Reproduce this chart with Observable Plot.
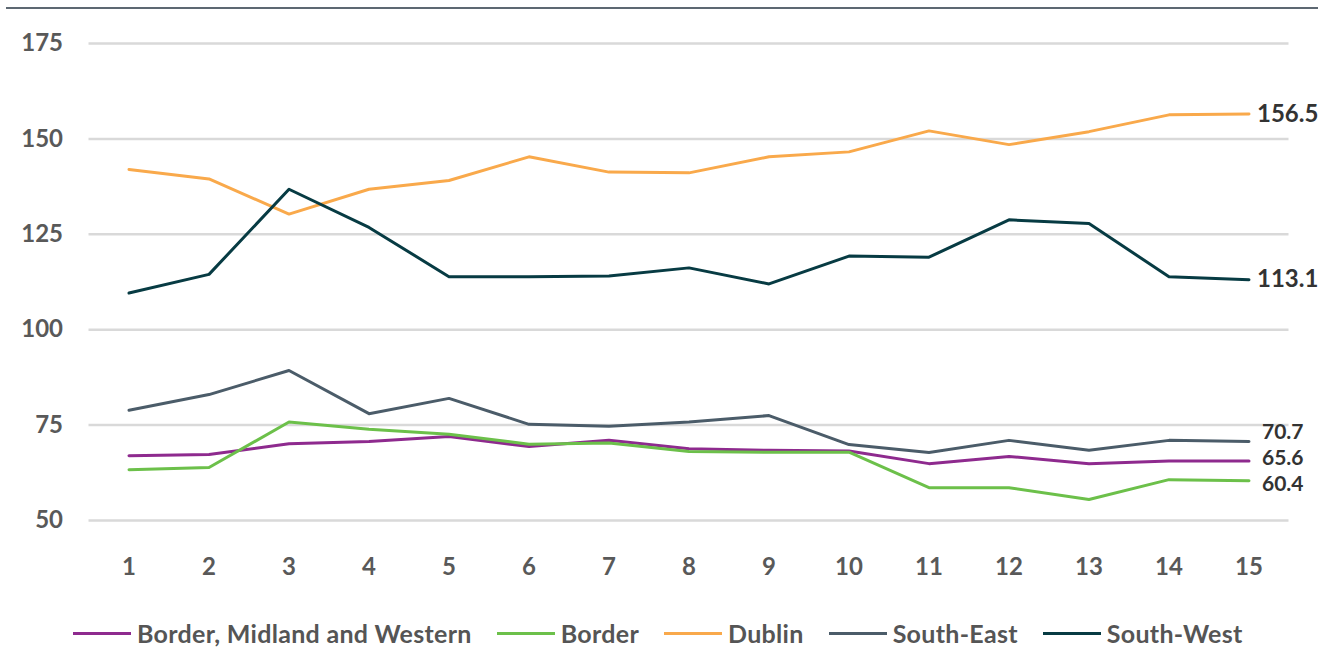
<!DOCTYPE html>
<html>
<head>
<meta charset="utf-8">
<script src="https://cdn.jsdelivr.net/npm/d3@7"></script>
<script src="https://cdn.jsdelivr.net/npm/@observablehq/plot@0.6"></script>
<style>
  html, body { margin: 0; padding: 0; background: #fff; }
  #wrap { position: relative; width: 1338px; height: 659px; overflow: hidden; }
  #topline { position: absolute; top: 7px; left: 6px; width: 1312px; border-top: 2.5px solid #5d6872; }
  #legend { position: absolute; top: 618px; left: 73px; display: flex; align-items: center;
            font-family: Lato, sans-serif; font-weight: 700; font-size: 25px; letter-spacing: 0.3px; color: #555; }
  .item { display: flex; align-items: center; margin-right: 25px; }
  .sw { width: 58px; height: 3px; margin-right: 6px; }
</style>
</head>
<body>
<div id="wrap">
  <div id="topline"></div>
  <div id="chart"></div>
  <div id="legend"></div>
</div>
<script>
const periods = [1, 2, 3, 4, 5, 6, 7, 8, 9, 10, 11, 12, 13, 14, 15];
const yTicks = [50, 75, 100, 125, 150, 175];
const seriesNames = ["Border, Midland and Western", "Border", "Dublin", "South-East", "South-West"];
const seriesColors = ["#8e2a8e", "#6cc04a", "#f9a94b", "#4b5c69", "#073b43"];

const bmw       = [67.0, 67.3, 70.1, 70.7, 72.0, 69.4, 71.0, 68.8, 68.4, 68.2, 64.9, 66.8, 64.9, 65.6, 65.6];
const border    = [63.3, 63.9, 75.8, 73.9, 72.6, 70.0, 70.3, 68.1, 67.9, 67.9, 58.6, 58.6, 55.5, 60.7, 60.4];
const dublin    = [142.0, 139.5, 130.3, 136.8, 139.1, 145.3, 141.3, 141.1, 145.3, 146.6, 152.1, 148.5, 151.9, 156.3, 156.5];
const southEast = [78.9, 83.0, 89.3, 78.0, 82.0, 75.2, 74.7, 75.8, 77.5, 69.9, 67.8, 71.0, 68.4, 71.0, 70.7];
const southWest = [109.6, 114.5, 136.8, 126.8, 113.9, 113.9, 114.1, 116.2, 112.0, 119.3, 119.0, 128.8, 127.8, 113.9, 113.1];

const seriesValues = [bmw, border, dublin, southEast, southWest];
const rows = [];
seriesNames.forEach((name, i) => {
  periods.forEach((p, j) => rows.push({series: name, period: p, value: seriesValues[i][j]}));
});
const last = rows.filter(d => d.period === periods[periods.length - 1]);
const pick = name => last.filter(d => d.series === name);
const upperLast = last.filter(d => d.value > 100);
const fmt = d => d.value.toFixed(1);

const chart = Plot.plot({
  width: 1338,
  height: 600,
  marginTop: 43,
  marginBottom: 80,
  marginLeft: 88.5,
  marginRight: 49.5,
  style: {fontFamily: "Lato, sans-serif", fontSize: "24px", fontWeight: "700", color: "#595959", background: "transparent", overflow: "visible"},
  x: {domain: [0.5, 15.5]},
  y: {domain: [50, 175]},
  color: {domain: seriesNames, range: seriesColors},
  marks: [
    Plot.gridY(yTicks, {stroke: "#d9d9d9", strokeOpacity: 1, strokeWidth: 2.5}),
    Plot.axisX({ticks: periods, tickSize: 0, tickPadding: 37, label: null, tickFormat: d => String(d)}),
    Plot.axisY({ticks: yTicks, tickSize: 0, tickPadding: 26, label: null}),
    Plot.line(rows, {x: "period", y: "value", z: "series", stroke: "series", strokeWidth: 3}),
    Plot.text(upperLast, {x: "period", y: "value", text: fmt, textAnchor: "start", dx: 8, fill: "#333"}),
    Plot.text(pick("South-East"), {x: "period", y: "value", text: fmt, textAnchor: "start", dx: 13, dy: -9, fontSize: 21, fill: "#333"}),
    Plot.text(pick("Border, Midland and Western"), {x: "period", y: "value", text: fmt, textAnchor: "start", dx: 13, dy: -3, fontSize: 21, fill: "#333"}),
    Plot.text(pick("Border"), {x: "period", y: "value", text: fmt, textAnchor: "start", dx: 13, dy: 3, fontSize: 21, fill: "#333"})
  ]
});
document.getElementById("chart").appendChild(chart);

const legend = document.getElementById("legend");
seriesNames.forEach((name, i) => {
  const item = document.createElement("div");
  item.className = "item";
  const sw = document.createElement("div");
  sw.className = "sw";
  sw.style.background = seriesColors[i];
  const label = document.createElement("span");
  label.textContent = name;
  item.appendChild(sw);
  item.appendChild(label);
  legend.appendChild(item);
});
</script>
</body>
</html>
